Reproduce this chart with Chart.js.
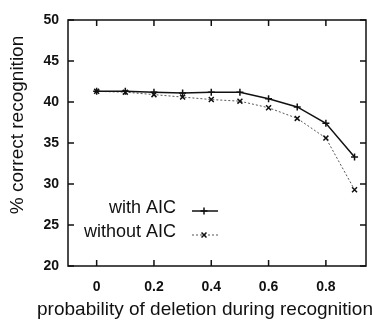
<!DOCTYPE html>
<html>
<head>
<meta charset="utf-8">
<script src="https://cdn.jsdelivr.net/npm/chart.js@4/dist/chart.umd.min.js"></script>
<style>
  html, body { margin: 0; padding: 0; background: #fff; }
  #wrap { width: 372px; height: 325px; }
</style>
</head>
<body>
<div id="wrap"><canvas id="chart" width="372" height="325"></canvas></div>
<script>
// values
const deletionProb = [0, 0.1, 0.2, 0.3, 0.4, 0.5, 0.6, 0.7, 0.8, 0.9];
const withAIC = [41.3, 41.3, 41.2, 41.1, 41.2, 41.2, 40.4, 39.4, 37.4, 33.3];
const withoutAIC = [41.3, 41.2, 40.9, 40.6, 40.3, 40.1, 39.3, 38.0, 35.6, 29.3];
const xTicks = [0, 0.2, 0.4, 0.6, 0.8];
const yTicks = [20, 25, 30, 35, 40, 45, 50];

const FONT = '"Liberation Sans", Arial, Helvetica, sans-serif';

// gnuplot-like frame with inward ticks on all four sides, plus legend and titles
const framePlugin = {
    id: 'frame',
    afterDraw(chart) {
        const ctx = chart.ctx;
        const a = chart.chartArea;
        const xs = chart.scales.x, ys = chart.scales.y;
        ctx.save();
        ctx.strokeStyle = '#111';
        ctx.lineWidth = 1.5;
        ctx.strokeRect(a.left, a.top, a.right - a.left, a.bottom - a.top);
        ctx.beginPath();
        xTicks.forEach(v => {
            const px = xs.getPixelForValue(v);
            ctx.moveTo(px, a.bottom); ctx.lineTo(px, a.bottom - 6);
            ctx.moveTo(px, a.top); ctx.lineTo(px, a.top + 6);
        });
        yTicks.forEach(v => {
            const py = ys.getPixelForValue(v);
            ctx.moveTo(a.left, py); ctx.lineTo(a.left + 6, py);
            ctx.moveTo(a.right, py); ctx.lineTo(a.right - 6, py);
        });
        ctx.stroke();

        // legend, text right-aligned with sample line to the right
        ctx.fillStyle = '#111';
        ctx.font = '18px ' + FONT;
        ctx.textAlign = 'right';
        ctx.textBaseline = 'middle';
        const rows = [[208, 0], [232, 1]];
        rows.forEach(([y, i]) => {
            const ds = chart.data.datasets[i];
            ctx.fillText(ds.label, 176, y);
            ctx.save();
            ctx.strokeStyle = ds.borderColor;
            ctx.lineWidth = ds.borderWidth;
            ctx.setLineDash(ds.borderDash || []);
            ctx.beginPath();
            ctx.moveTo(192, y + 3); ctx.lineTo(218, y + 3);
            ctx.stroke();
            ctx.restore();
            Chart.helpers.drawPoint(ctx, {
                pointStyle: ds.pointStyle, radius: ds.pointRadius,
                borderWidth: ds.pointBorderWidth, rotation: 0
            }, 204, y + 3);
        });

        // axis titles
        ctx.font = '19px ' + FONT;
        ctx.textAlign = 'center';
        ctx.fillText('probability of deletion during recognition', 205, 310);
        ctx.translate(18, 125);
        ctx.rotate(-Math.PI / 2);
        ctx.fillText('% correct recognition', 0, 0);
        ctx.restore();
    }
};

new Chart(document.getElementById('chart').getContext('2d'), {
    type: 'line',
    data: {
        labels: deletionProb,
        datasets: [
            {
                label: 'with AIC',
                data: deletionProb.map((x, i) => ({ x: x, y: withAIC[i] })),
                borderColor: '#111',
                borderWidth: 1.5,
                pointStyle: 'cross',
                pointRadius: 3.5,
                pointBorderWidth: 1.5,
                pointBorderColor: '#111',
                fill: false,
                tension: 0
            },
            {
                label: 'without AIC',
                data: deletionProb.map((x, i) => ({ x: x, y: withoutAIC[i] })),
                borderColor: '#555',
                borderWidth: 1,
                borderDash: [2, 2],
                pointStyle: 'crossRot',
                pointRadius: 3.5,
                pointBorderWidth: 1.5,
                pointBorderColor: '#111',
                fill: false,
                tension: 0
            }
        ]
    },
    options: {
        responsive: false,
        animation: false,
        layout: { padding: { top: 20, right: 6, left: 0, bottom: 0 } },
        plugins: {
            legend: { display: false },
            tooltip: { enabled: false }
        },
        scales: {
            x: {
                type: 'linear',
                min: -0.1,
                max: 0.94,
                afterFit: s => { s.height = 59; },
                afterBuildTicks: s => { s.ticks = xTicks.map(v => ({ value: v })); },
                grid: { display: false, drawTicks: false },
                border: { display: false },
                ticks: {
                    padding: 13,
                    color: '#111',
                    font: { family: FONT, size: 14, weight: 'bold' },
                    callback: v => String(v)
                }
            },
            y: {
                min: 20,
                max: 50,
                afterFit: s => { s.width = 68; },
                afterBuildTicks: s => { s.ticks = yTicks.map(v => ({ value: v })); },
                grid: { display: false, drawTicks: false },
                border: { display: false },
                ticks: {
                    padding: 9,
                    color: '#111',
                    font: { family: FONT, size: 14, weight: 'bold' }
                }
            }
        }
    },
    plugins: [framePlugin]
});
</script>
</body>
</html>
